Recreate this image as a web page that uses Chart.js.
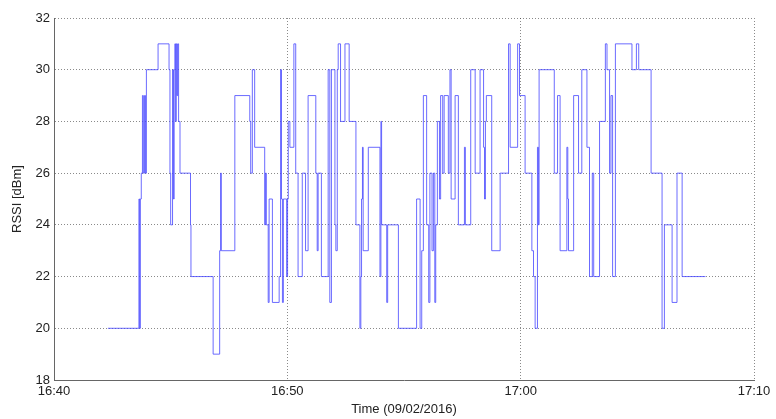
<!DOCTYPE html>
<html>
<head>
<meta charset="utf-8">
<script src="https://cdn.jsdelivr.net/npm/chart.js@4.4.1/dist/chart.umd.min.js"></script>
<style>
  html, body { margin: 0; padding: 0; background: #fff; }
  #wrap { width: 776px; height: 419px; position: relative; }
</style>
</head>
<body>
<div id="wrap"><canvas id="rssi"></canvas></div>
<script>
// sample times, minutes after 16:40
const minutes = [
  2.31, 3.64, 3.67, 3.70, 3.74, 3.79, 3.83, 3.88, 3.92, 3.96,
  4.46, 4.93, 4.97, 5.00, 5.08, 5.12, 5.15, 5.18, 5.21, 5.24,
  5.27, 5.30, 5.34, 5.40, 5.85, 5.87, 6.82, 7.10, 7.14, 7.17,
  7.75, 8.39, 8.43, 8.50, 8.60, 9.03, 9.06, 9.10, 9.18, 9.22,
  9.36, 9.65, 9.71, 9.75, 9.79, 9.83, 9.97, 10.01, 10.04, 10.11,
  10.28, 10.36, 10.46, 10.64, 10.78, 10.89, 11.22, 11.28, 11.32, 11.46,
  11.75, 11.82, 11.89, 12.04, 12.08, 12.14, 12.18, 12.28, 12.47, 12.65,
  12.94, 13.11, 13.15, 13.18, 13.22, 13.25, 13.47, 13.97, 14.01, 14.04,
  14.26, 14.30, 14.76, 15.54, 15.69, 15.76, 15.83, 15.97, 16.06, 16.11,
  16.20, 16.26, 16.32, 16.36, 16.43, 16.52, 16.57, 16.66, 16.72, 16.90,
  16.97, 17.02, 17.19, 17.33, 17.59, 17.63, 17.86, 18.05, 18.26, 18.41,
  18.45, 18.49, 18.53, 18.76, 19.12, 19.48, 19.55, 19.87, 19.95, 20.19,
  20.48, 20.55, 20.62, 20.72, 20.76, 20.79, 21.44, 21.58, 21.69, 21.98,
  22.02, 22.05, 22.27, 22.48, 22.62, 22.84, 22.95, 23.07, 23.13, 23.38,
  23.63, 23.70, 23.81, 23.87, 23.94, 24.06, 24.77, 24.96, 25.06, 25.59,
  26.06, 26.16, 26.49, 26.70, 26.92, 27.92
];
// RSSI readings [dBm]
const rssi = [
  20, 25, 20, 25, 26, 29, 26, 29, 26, 30,
  31, 30, 26, 24, 30, 25, 30, 31, 28, 31,
  29, 31, 28, 26, 24, 22, 19, 23, 26, 23,
  29, 28, 26, 30, 27, 24, 26, 24, 21, 25,
  21, 22, 30, 25, 21, 25, 22, 25, 28, 27,
  31, 26, 22, 26, 23, 29, 26, 23, 26, 22,
  30, 21, 30, 24, 23, 30, 31, 28, 31, 28,
  24, 20, 22, 25, 27, 23, 27, 22, 28, 24,
  21, 24, 20, 25, 20, 23, 29, 24, 21, 26,
  23, 26, 21, 24, 28, 25, 29, 26, 29, 26,
  30, 25, 29, 24, 27, 24, 30, 26, 30, 27,
  25, 28, 29, 23, 26, 31, 27, 31, 29, 26,
  23, 22, 20, 27, 24, 30, 26, 29, 23, 27,
  25, 23, 29, 26, 30, 27, 22, 26, 22, 28,
  31, 30, 26, 29, 22, 31, 30, 31, 30, 26,
  20, 24, 21, 26, 22, 22
];
const timeTicks = [0, 10, 20, 30];
const timeLabels = ['16:40', '16:50', '17:00', '17:10'];
const rssiTicks = [18, 20, 22, 24, 26, 28, 30, 32];

const points = minutes.map((m, i) => ({ x: m, y: rssi[i] }));

const font = { family: 'Liberation Sans, Arial, sans-serif', size: 13 };
const gridColor = 'rgba(60,60,60,0.6)';

new Chart(document.getElementById('rssi'), {
  type: 'line',
  data: {
    datasets: [{
      data: points,
      stepped: 'before',
      borderColor: 'rgba(70,70,255,0.8)',
      borderWidth: 1,
      pointRadius: 0,
      fill: false
    }]
  },
  options: {
    responsive: true,
    maintainAspectRatio: false,
    animation: false,
    layout: { padding: { left: 10, top: 18, right: 22, bottom: 2 } },
    plugins: { legend: { display: false }, tooltip: { enabled: false } },
    scales: {
      x: {
        type: 'linear',
        min: 0,
        max: 30,
        afterBuildTicks: s => { s.ticks = timeTicks.map(v => ({ value: v })); },
        afterFit: s => { s.height = 37; },
        ticks: {
          color: '#222',
          font: font,
          padding: 4,
          maxRotation: 0,
          callback: v => timeLabels[timeTicks.indexOf(v)]
        },
        grid: { color: gridColor, drawTicks: false },
        border: { color: '#666', width: 1, dash: [1, 2] },
        title: {
          display: true,
          text: 'Time (09/02/2016)',
          color: '#222',
          font: font,
          padding: { top: 0, bottom: 0 }
        }
      },
      y: {
        min: 18,
        max: 32,
        afterBuildTicks: s => { s.ticks = rssiTicks.map(v => ({ value: v })); },
        afterFit: s => { s.width = 44; },
        ticks: { color: '#222', font: font, padding: 4 },
        grid: { color: gridColor, drawTicks: false },
        border: { color: '#666', width: 1, dash: [1, 2] },
        title: {
          display: true,
          text: 'RSSI [dBm]',
          color: '#222',
          font: font,
          padding: { top: 0, bottom: 2 }
        }
      }
    }
  }
});
</script>
</body>
</html>
